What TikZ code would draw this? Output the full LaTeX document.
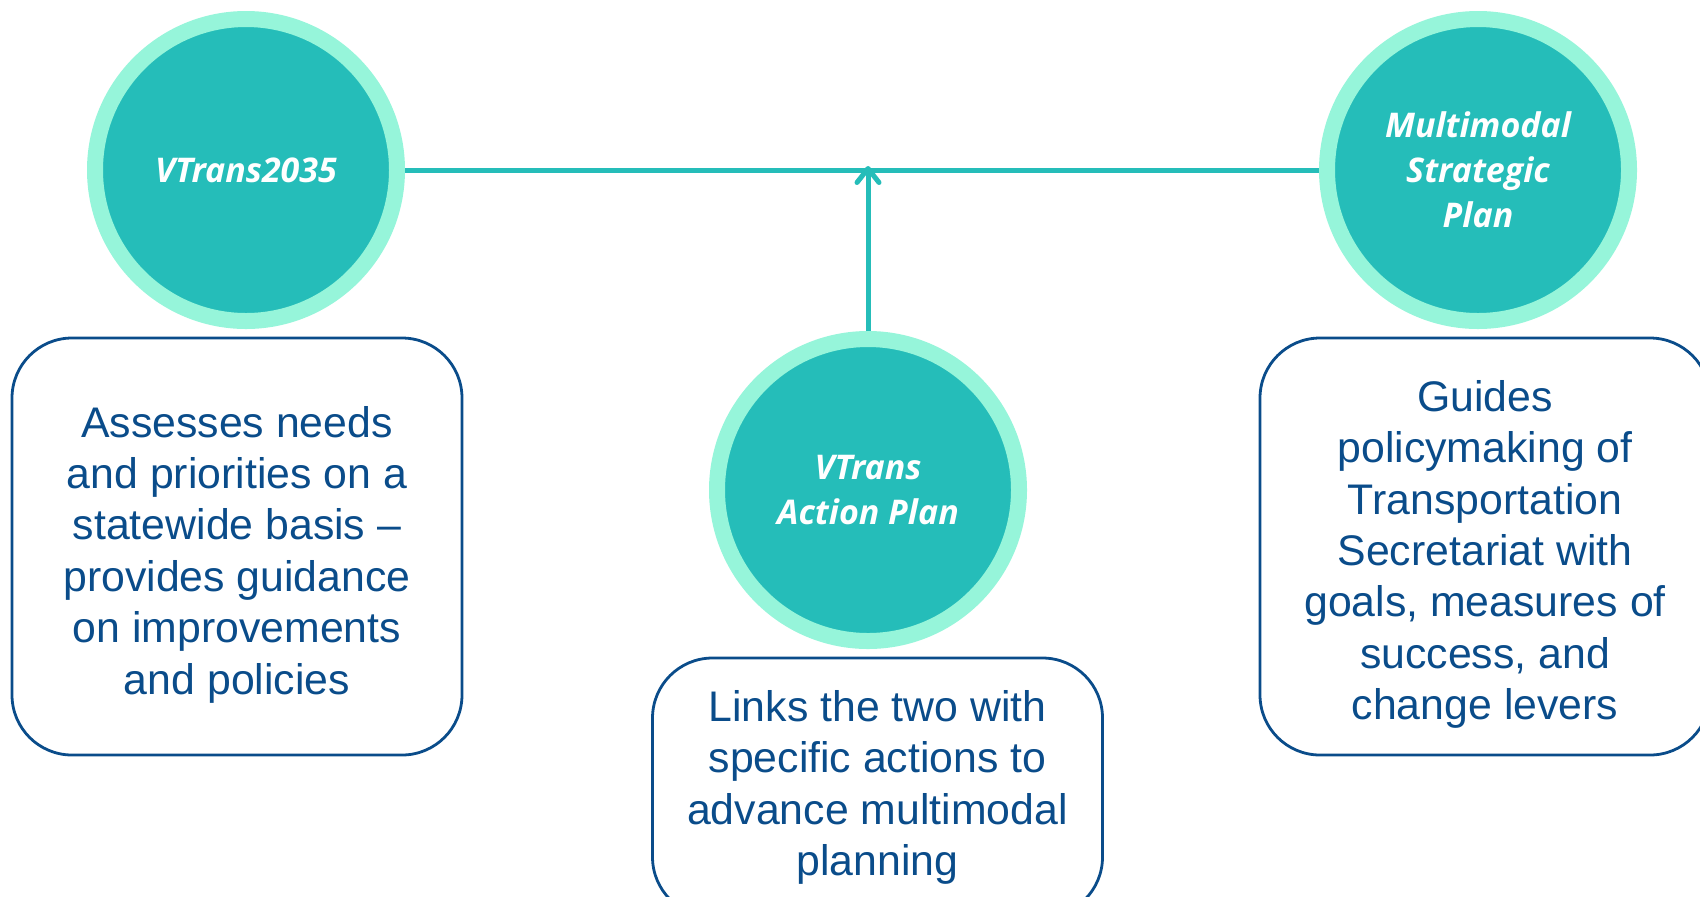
\documentclass[tikz,border=0pt]{standalone}
\usepackage{fontspec}
\setmainfont{Liberation Sans}
\newfontfamily\planfont{Open Sans}
\usetikzlibrary{arrows.meta}

\definecolor{vteal}{HTML}{25BDB9}
\definecolor{vmint}{HTML}{96F5DA}
\definecolor{vblue}{HTML}{0A4C8A}

\tikzstyle{plan}=[circle, draw=vmint, fill=vteal, line width=8pt, minimum size=151pt, inner sep=0pt, text=white, align=center, font=\planfont\bfseries\itshape\fontsize{17}{22.5}\selectfont]
\tikzstyle{descbox}=[draw=vblue, line width=1.4pt, rounded corners=30pt, minimum width=225pt, align=center, text=vblue, font=\fontsize{21.4}{25.7}\selectfont]
\tikzstyle{link}=[vteal, line width=2.5pt]
\tikzstyle{feed}=[vteal, line width=2.5pt, -{Straight Barb[round, length=7pt, width=11pt]}, shorten >=-2pt]

\newcommand{\toppad}{\rule{0pt}{23.5pt}}

\begin{document}
\begin{tikzpicture}[x=0.5pt, y=-0.5pt]
      \useasboundingbox (0,0) rectangle (1700,896);
      \clip (0,0) rectangle (1700,896);

      \node[plan] (v2035) at (246, 170) {VTrans2035};
      \node[plan] (msp) at (1478, 170) {Multimodal\\Strategic\\Plan};
      \node[plan] (actplan) at (868, 490) {VTrans\\Action Plan};

      \node[descbox, minimum height=208.5pt] (v2035txt) at (237, 546.5) {\toppad Assesses needs\\and priorities on a\\statewide basis --\\provides guidance\\on improvements\\and policies};
      \node[descbox, minimum height=208.5pt] (msptxt) at (1485, 546.5) {\toppad Guides\\policymaking of\\Transportation\\Secretariat with\\goals, measures of\\success, and\\change levers};
      \node[descbox, minimum height=129.5pt] (actplantxt) at (877.5, 787.5) {Links the two with\\specific actions to\\advance multimodal\\planning};

      \draw[link] (v2035) to (msp);
      \coordinate (hub) at (actplan |- v2035);
      \draw[feed] (actplan) to (hub);
\end{tikzpicture}
\end{document}
